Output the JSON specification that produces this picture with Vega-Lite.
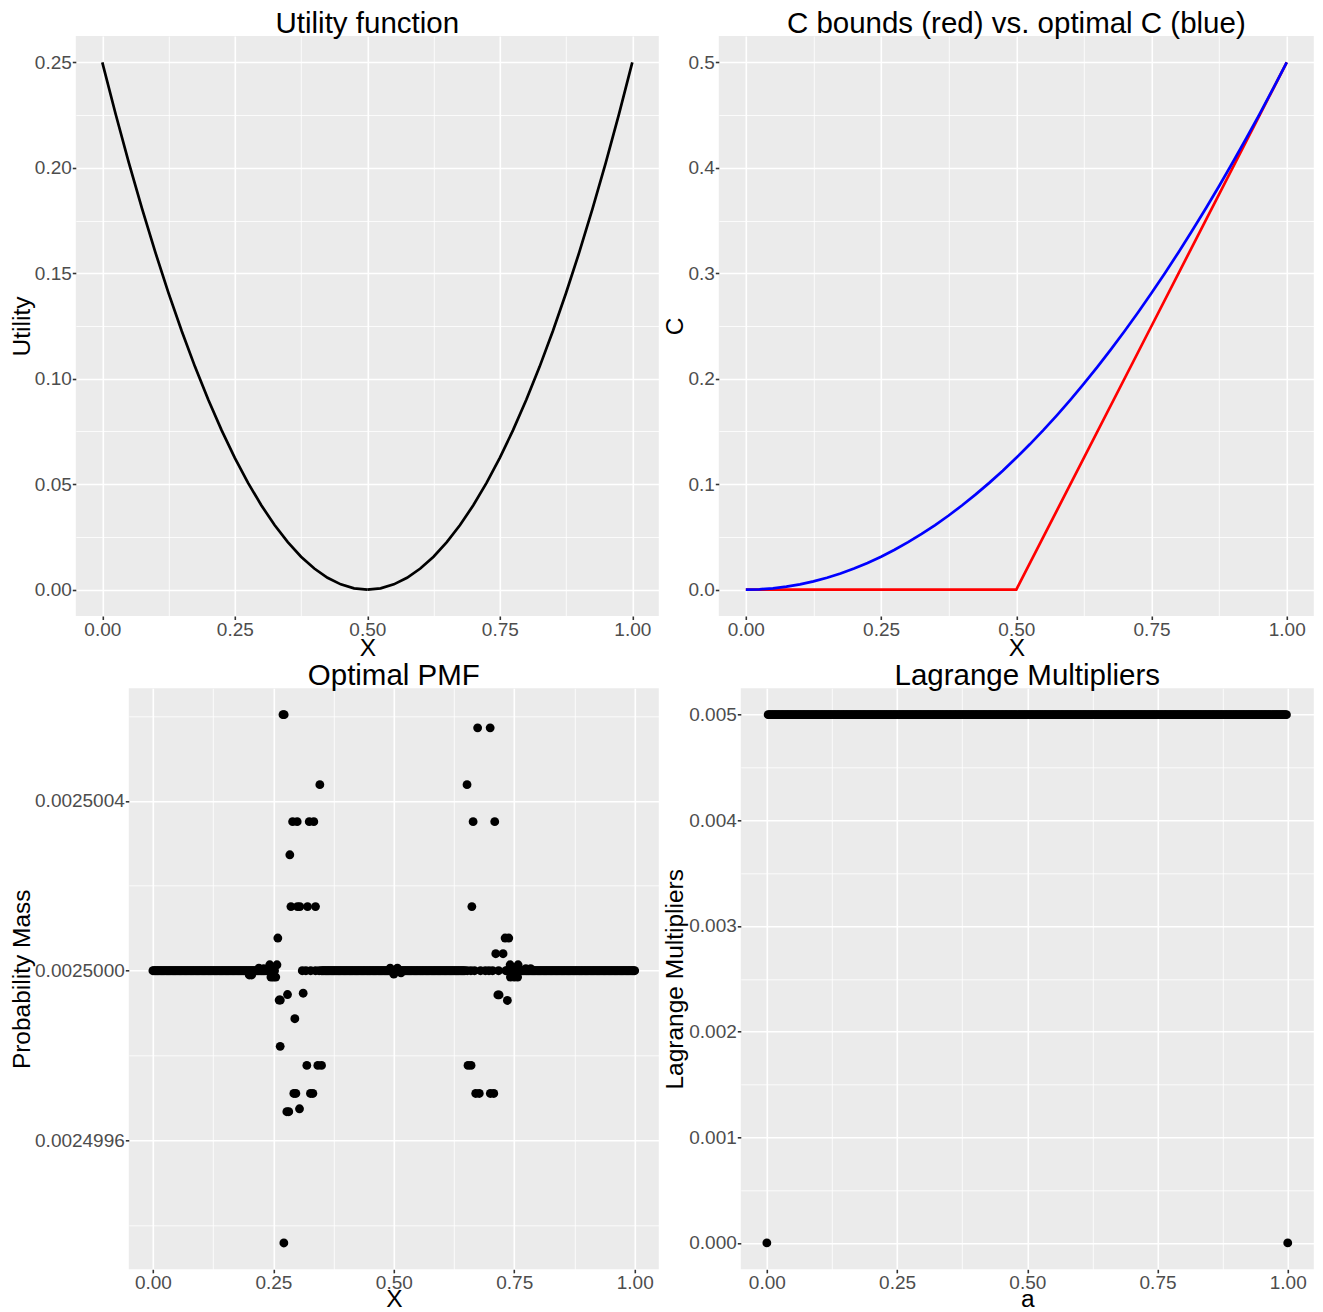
{
"$schema": "https://vega.github.io/schema/vega-lite/v6.json",
"padding": {"left": 4.8, "top": 8, "right": 0, "bottom": 0},
"background": "#FFFFFF",
"spacing": -0.7,
"config": {
 "font": "Liberation Sans",
 "view": {"fill": "#EBEBEB", "stroke": null},
 "axis": {"domain": false, "tickColor": "#333333", "tickWidth": 1.6, "tickSize": 3.5, "labelColor": "#4D4D4D", "labelFontSize": 19, "labelPadding": 1, "titleColor": "#000000", "titleFontSize": 24.5, "titleFontWeight": "normal", "gridColor": "#FFFFFF", "gridWidth": 1.6, "labelFlush": false, "labelOverlap": false},
 "title": {"fontSize": 29.5, "fontWeight": "normal", "color": "#000000", "anchor": "middle", "frame": "group", "offset": -3}
},
"datasets": {
 "spacer": [],
 "util_left": [{"x":0,"u":0.25},{"x":0.025,"u":0.225625},{"x":0.05,"u":0.2025},{"x":0.075,"u":0.180625},{"x":0.1,"u":0.16},{"x":0.125,"u":0.140625},{"x":0.15,"u":0.1225},{"x":0.175,"u":0.105625},{"x":0.2,"u":0.09},{"x":0.225,"u":0.075625},{"x":0.25,"u":0.0625},{"x":0.275,"u":0.050625},{"x":0.3,"u":0.04},{"x":0.325,"u":0.030625},{"x":0.35,"u":0.0225},{"x":0.375,"u":0.015625},{"x":0.4,"u":0.01},{"x":0.425,"u":0.005625},{"x":0.45,"u":0.0025},{"x":0.475,"u":0.000625},{"x":0.5,"u":0}],
 "util_right": [{"x":0.5,"u":0},{"x":0.525,"u":0.000625},{"x":0.55,"u":0.0025},{"x":0.575,"u":0.005625},{"x":0.6,"u":0.01},{"x":0.625,"u":0.015625},{"x":0.65,"u":0.0225},{"x":0.675,"u":0.030625},{"x":0.7,"u":0.04},{"x":0.725,"u":0.050625},{"x":0.75,"u":0.0625},{"x":0.775,"u":0.075625},{"x":0.8,"u":0.09},{"x":0.825,"u":0.105625},{"x":0.85,"u":0.1225},{"x":0.875,"u":0.140625},{"x":0.9,"u":0.16},{"x":0.925,"u":0.180625},{"x":0.95,"u":0.2025},{"x":0.975,"u":0.225625},{"x":1,"u":0.25}],
 "c_red": [{"x":0,"C":0},{"x":0.25,"C":0},{"x":0.5,"C":0},{"x":0.75,"C":0.25},{"x":1,"C":0.5}],
 "c_blue": [{"x":0,"C":0},{"x":0.025,"C":0.0003125},{"x":0.05,"C":0.00125},{"x":0.075,"C":0.0028125},{"x":0.1,"C":0.005},{"x":0.125,"C":0.0078125},{"x":0.15,"C":0.01125},{"x":0.175,"C":0.0153125},{"x":0.2,"C":0.02},{"x":0.225,"C":0.0253125},{"x":0.25,"C":0.03125},{"x":0.275,"C":0.0378125},{"x":0.3,"C":0.045},{"x":0.325,"C":0.0528125},{"x":0.35,"C":0.06125},{"x":0.375,"C":0.0703125},{"x":0.4,"C":0.08},{"x":0.425,"C":0.0903125},{"x":0.45,"C":0.10125},{"x":0.475,"C":0.1128125},{"x":0.5,"C":0.125},{"x":0.525,"C":0.1378125},{"x":0.55,"C":0.15125},{"x":0.575,"C":0.1653125},{"x":0.6,"C":0.18},{"x":0.625,"C":0.1953125},{"x":0.65,"C":0.21125},{"x":0.675,"C":0.2278125},{"x":0.7,"C":0.245},{"x":0.725,"C":0.2628125},{"x":0.75,"C":0.28125},{"x":0.775,"C":0.3003125},{"x":0.8,"C":0.32},{"x":0.825,"C":0.3403125},{"x":0.85,"C":0.36125},{"x":0.875,"C":0.3828125},{"x":0.9,"C":0.405},{"x":0.925,"C":0.4278125},{"x":0.95,"C":0.45125},{"x":0.975,"C":0.4753125},{"x":1,"C":0.5}],
 "pmf_base": [{"x":0,"p":0.0025},{"x":0.0025,"p":0.0025},{"x":0.005,"p":0.0025},{"x":0.0075,"p":0.0025},{"x":0.01,"p":0.0025},{"x":0.0125,"p":0.0025},{"x":0.015,"p":0.0025},{"x":0.0175,"p":0.0025},{"x":0.02,"p":0.0025},{"x":0.0225,"p":0.0025},{"x":0.025,"p":0.0025},{"x":0.0275,"p":0.0025},{"x":0.03,"p":0.0025},{"x":0.0325,"p":0.0025},{"x":0.035,"p":0.0025},{"x":0.0375,"p":0.0025},{"x":0.04,"p":0.0025},{"x":0.0425,"p":0.0025},{"x":0.045,"p":0.0025},{"x":0.0475,"p":0.0025},{"x":0.05,"p":0.0025},{"x":0.0525,"p":0.0025},{"x":0.055,"p":0.0025},{"x":0.0575,"p":0.0025},{"x":0.06,"p":0.0025},{"x":0.0625,"p":0.0025},{"x":0.065,"p":0.0025},{"x":0.0675,"p":0.0025},{"x":0.07,"p":0.0025},{"x":0.0725,"p":0.0025},{"x":0.075,"p":0.0025},{"x":0.0775,"p":0.0025},{"x":0.08,"p":0.0025},{"x":0.0825,"p":0.0025},{"x":0.085,"p":0.0025},{"x":0.0875,"p":0.0025},{"x":0.09,"p":0.0025},{"x":0.0925,"p":0.0025},{"x":0.095,"p":0.0025},{"x":0.0975,"p":0.0025},{"x":0.1,"p":0.0025},{"x":0.1025,"p":0.0025},{"x":0.105,"p":0.0025},{"x":0.1075,"p":0.0025},{"x":0.11,"p":0.0025},{"x":0.1125,"p":0.0025},{"x":0.115,"p":0.0025},{"x":0.1175,"p":0.0025},{"x":0.12,"p":0.0025},{"x":0.1225,"p":0.0025},{"x":0.125,"p":0.0025},{"x":0.1275,"p":0.0025},{"x":0.13,"p":0.0025},{"x":0.1325,"p":0.0025},{"x":0.135,"p":0.0025},{"x":0.1375,"p":0.0025},{"x":0.14,"p":0.0025},{"x":0.1425,"p":0.0025},{"x":0.145,"p":0.0025},{"x":0.1475,"p":0.0025},{"x":0.15,"p":0.0025},{"x":0.1525,"p":0.0025},{"x":0.155,"p":0.0025},{"x":0.1575,"p":0.0025},{"x":0.16,"p":0.0025},{"x":0.1625,"p":0.0025},{"x":0.165,"p":0.0025},{"x":0.1675,"p":0.0025},{"x":0.17,"p":0.0025},{"x":0.1725,"p":0.0025},{"x":0.175,"p":0.0025},{"x":0.1775,"p":0.0025},{"x":0.18,"p":0.0025},{"x":0.1825,"p":0.0025},{"x":0.185,"p":0.0025},{"x":0.1875,"p":0.0025},{"x":0.19,"p":0.0025},{"x":0.1925,"p":0.0025},{"x":0.195,"p":0.0025},{"x":0.1975,"p":0.0025},{"x":0.2,"p":0.0025},{"x":0.2025,"p":0.0025},{"x":0.205,"p":0.0025},{"x":0.2075,"p":0.0025},{"x":0.21,"p":0.0025},{"x":0.2125,"p":0.0025},{"x":0.215,"p":0.0025},{"x":0.2175,"p":0.0025},{"x":0.22,"p":0.0025},{"x":0.2225,"p":0.0025},{"x":0.225,"p":0.0025},{"x":0.2275,"p":0.0025},{"x":0.23,"p":0.0025},{"x":0.2325,"p":0.0025},{"x":0.235,"p":0.0025},{"x":0.2375,"p":0.0025},{"x":0.24,"p":0.0025},{"x":0.2425,"p":0.0025},{"x":0.245,"p":0.0025},{"x":0.2475,"p":0.0025},{"x":0.25,"p":0.0025},{"x":0.2525,"p":0.0025},{"x":0.31,"p":0.0025},{"x":0.3175,"p":0.0025},{"x":0.3275,"p":0.0025},{"x":0.3375,"p":0.0025},{"x":0.345,"p":0.0025},{"x":0.35,"p":0.0025},{"x":0.3525,"p":0.0025},{"x":0.355,"p":0.0025},{"x":0.3575,"p":0.0025},{"x":0.36,"p":0.0025},{"x":0.3625,"p":0.0025},{"x":0.365,"p":0.0025},{"x":0.3675,"p":0.0025},{"x":0.37,"p":0.0025},{"x":0.3725,"p":0.0025},{"x":0.375,"p":0.0025},{"x":0.3775,"p":0.0025},{"x":0.38,"p":0.0025},{"x":0.3825,"p":0.0025},{"x":0.385,"p":0.0025},{"x":0.3875,"p":0.0025},{"x":0.39,"p":0.0025},{"x":0.3925,"p":0.0025},{"x":0.395,"p":0.0025},{"x":0.3975,"p":0.0025},{"x":0.4,"p":0.0025},{"x":0.4025,"p":0.0025},{"x":0.405,"p":0.0025},{"x":0.4075,"p":0.0025},{"x":0.41,"p":0.0025},{"x":0.4125,"p":0.0025},{"x":0.415,"p":0.0025},{"x":0.4175,"p":0.0025},{"x":0.42,"p":0.0025},{"x":0.4225,"p":0.0025},{"x":0.425,"p":0.0025},{"x":0.4275,"p":0.0025},{"x":0.43,"p":0.0025},{"x":0.4325,"p":0.0025},{"x":0.435,"p":0.0025},{"x":0.4375,"p":0.0025},{"x":0.44,"p":0.0025},{"x":0.4425,"p":0.0025},{"x":0.445,"p":0.0025},{"x":0.4475,"p":0.0025},{"x":0.45,"p":0.0025},{"x":0.4525,"p":0.0025},{"x":0.455,"p":0.0025},{"x":0.4575,"p":0.0025},{"x":0.46,"p":0.0025},{"x":0.4625,"p":0.0025},{"x":0.465,"p":0.0025},{"x":0.4675,"p":0.0025},{"x":0.47,"p":0.0025},{"x":0.4725,"p":0.0025},{"x":0.475,"p":0.0025},{"x":0.4775,"p":0.0025},{"x":0.48,"p":0.0025},{"x":0.4825,"p":0.0025},{"x":0.485,"p":0.0025},{"x":0.4875,"p":0.0025},{"x":0.49,"p":0.0025},{"x":0.4925,"p":0.0025},{"x":0.495,"p":0.0025},{"x":0.4975,"p":0.0025},{"x":0.5,"p":0.0025},{"x":0.5025,"p":0.0025},{"x":0.505,"p":0.0025},{"x":0.5075,"p":0.0025},{"x":0.51,"p":0.0025},{"x":0.5125,"p":0.0025},{"x":0.515,"p":0.0025},{"x":0.5175,"p":0.0025},{"x":0.52,"p":0.0025},{"x":0.5225,"p":0.0025},{"x":0.525,"p":0.0025},{"x":0.5275,"p":0.0025},{"x":0.53,"p":0.0025},{"x":0.5325,"p":0.0025},{"x":0.535,"p":0.0025},{"x":0.5375,"p":0.0025},{"x":0.54,"p":0.0025},{"x":0.5425,"p":0.0025},{"x":0.545,"p":0.0025},{"x":0.5475,"p":0.0025},{"x":0.55,"p":0.0025},{"x":0.5525,"p":0.0025},{"x":0.555,"p":0.0025},{"x":0.5575,"p":0.0025},{"x":0.56,"p":0.0025},{"x":0.5625,"p":0.0025},{"x":0.565,"p":0.0025},{"x":0.5675,"p":0.0025},{"x":0.57,"p":0.0025},{"x":0.5725,"p":0.0025},{"x":0.575,"p":0.0025},{"x":0.5775,"p":0.0025},{"x":0.58,"p":0.0025},{"x":0.5825,"p":0.0025},{"x":0.585,"p":0.0025},{"x":0.5875,"p":0.0025},{"x":0.59,"p":0.0025},{"x":0.5925,"p":0.0025},{"x":0.595,"p":0.0025},{"x":0.5975,"p":0.0025},{"x":0.6,"p":0.0025},{"x":0.6025,"p":0.0025},{"x":0.605,"p":0.0025},{"x":0.6075,"p":0.0025},{"x":0.61,"p":0.0025},{"x":0.6125,"p":0.0025},{"x":0.615,"p":0.0025},{"x":0.6175,"p":0.0025},{"x":0.62,"p":0.0025},{"x":0.6225,"p":0.0025},{"x":0.625,"p":0.0025},{"x":0.6275,"p":0.0025},{"x":0.63,"p":0.0025},{"x":0.6325,"p":0.0025},{"x":0.635,"p":0.0025},{"x":0.6375,"p":0.0025},{"x":0.64,"p":0.0025},{"x":0.6425,"p":0.0025},{"x":0.645,"p":0.0025},{"x":0.6475,"p":0.0025},{"x":0.6525,"p":0.0025},{"x":0.66,"p":0.0025},{"x":0.6675,"p":0.0025},{"x":0.68,"p":0.0025},{"x":0.69,"p":0.0025},{"x":0.6975,"p":0.0025},{"x":0.705,"p":0.0025},{"x":0.7175,"p":0.0025},{"x":0.7325,"p":0.0025},{"x":0.735,"p":0.0025},{"x":0.7375,"p":0.0025},{"x":0.74,"p":0.0025},{"x":0.7425,"p":0.0025},{"x":0.745,"p":0.0025},{"x":0.7475,"p":0.0025},{"x":0.75,"p":0.0025},{"x":0.7525,"p":0.0025},{"x":0.755,"p":0.0025},{"x":0.7575,"p":0.0025},{"x":0.76,"p":0.0025},{"x":0.7625,"p":0.0025},{"x":0.765,"p":0.0025},{"x":0.7675,"p":0.0025},{"x":0.77,"p":0.0025},{"x":0.7725,"p":0.0025},{"x":0.775,"p":0.0025},{"x":0.7775,"p":0.0025},{"x":0.78,"p":0.0025},{"x":0.7825,"p":0.0025},{"x":0.785,"p":0.0025},{"x":0.7875,"p":0.0025},{"x":0.79,"p":0.0025},{"x":0.7925,"p":0.0025},{"x":0.795,"p":0.0025},{"x":0.7975,"p":0.0025},{"x":0.8,"p":0.0025},{"x":0.8025,"p":0.0025},{"x":0.805,"p":0.0025},{"x":0.8075,"p":0.0025},{"x":0.81,"p":0.0025},{"x":0.8125,"p":0.0025},{"x":0.815,"p":0.0025},{"x":0.8175,"p":0.0025},{"x":0.82,"p":0.0025},{"x":0.8225,"p":0.0025},{"x":0.825,"p":0.0025},{"x":0.8275,"p":0.0025},{"x":0.83,"p":0.0025},{"x":0.8325,"p":0.0025},{"x":0.835,"p":0.0025},{"x":0.8375,"p":0.0025},{"x":0.84,"p":0.0025},{"x":0.8425,"p":0.0025},{"x":0.845,"p":0.0025},{"x":0.8475,"p":0.0025},{"x":0.85,"p":0.0025},{"x":0.8525,"p":0.0025},{"x":0.855,"p":0.0025},{"x":0.8575,"p":0.0025},{"x":0.86,"p":0.0025},{"x":0.8625,"p":0.0025},{"x":0.865,"p":0.0025},{"x":0.8675,"p":0.0025},{"x":0.87,"p":0.0025},{"x":0.8725,"p":0.0025},{"x":0.875,"p":0.0025},{"x":0.8775,"p":0.0025},{"x":0.88,"p":0.0025},{"x":0.8825,"p":0.0025},{"x":0.885,"p":0.0025},{"x":0.8875,"p":0.0025},{"x":0.89,"p":0.0025},{"x":0.8925,"p":0.0025},{"x":0.895,"p":0.0025},{"x":0.8975,"p":0.0025},{"x":0.9,"p":0.0025},{"x":0.9025,"p":0.0025},{"x":0.905,"p":0.0025},{"x":0.9075,"p":0.0025},{"x":0.91,"p":0.0025},{"x":0.9125,"p":0.0025},{"x":0.915,"p":0.0025},{"x":0.9175,"p":0.0025},{"x":0.92,"p":0.0025},{"x":0.9225,"p":0.0025},{"x":0.925,"p":0.0025},{"x":0.9275,"p":0.0025},{"x":0.93,"p":0.0025},{"x":0.9325,"p":0.0025},{"x":0.935,"p":0.0025},{"x":0.9375,"p":0.0025},{"x":0.94,"p":0.0025},{"x":0.9425,"p":0.0025},{"x":0.945,"p":0.0025},{"x":0.9475,"p":0.0025},{"x":0.95,"p":0.0025},{"x":0.9525,"p":0.0025},{"x":0.955,"p":0.0025},{"x":0.9575,"p":0.0025},{"x":0.96,"p":0.0025},{"x":0.9625,"p":0.0025},{"x":0.965,"p":0.0025},{"x":0.9675,"p":0.0025},{"x":0.97,"p":0.0025},{"x":0.9725,"p":0.0025},{"x":0.975,"p":0.0025},{"x":0.9775,"p":0.0025},{"x":0.98,"p":0.0025},{"x":0.9825,"p":0.0025},{"x":0.985,"p":0.0025},{"x":0.9875,"p":0.0025},{"x":0.99,"p":0.0025},{"x":0.9925,"p":0.0025},{"x":0.995,"p":0.0025},{"x":0.9975,"p":0.0025},{"x":1,"p":0.0025}],
 "pmf_dev": [{"x":0.2,"p":0.00249999},{"x":0.205,"p":0.00249999},{"x":0.22,"p":0.002500006},{"x":0.23,"p":0.002500005},{"x":0.2425,"p":0.002500014},{"x":0.2575,"p":0.002500014},{"x":0.245,"p":0.002499985},{"x":0.25,"p":0.002499985},{"x":0.255,"p":0.002499985},{"x":0.27,"p":0.002500603},{"x":0.2725,"p":0.002500603},{"x":0.3465,"p":0.002500438},{"x":0.29,"p":0.002500351},{"x":0.2995,"p":0.002500351},{"x":0.3245,"p":0.002500351},{"x":0.334,"p":0.002500351},{"x":0.2842,"p":0.002500273},{"x":0.2865,"p":0.002500151},{"x":0.3,"p":0.002500151},{"x":0.305,"p":0.002500151},{"x":0.321,"p":0.002500151},{"x":0.3375,"p":0.002500151},{"x":0.2593,"p":0.002500077},{"x":0.3119,"p":0.002499947},{"x":0.2794,"p":0.002499944},{"x":0.262,"p":0.002499931},{"x":0.2645,"p":0.002499931},{"x":0.2946,"p":0.002499887},{"x":0.2642,"p":0.002499822},{"x":0.3195,"p":0.002499777},{"x":0.3423,"p":0.002499777},{"x":0.35,"p":0.002499777},{"x":0.2925,"p":0.002499711},{"x":0.2967,"p":0.002499711},{"x":0.327,"p":0.002499711},{"x":0.332,"p":0.002499711},{"x":0.278,"p":0.002499668},{"x":0.282,"p":0.002499668},{"x":0.3043,"p":0.002499675},{"x":0.2718,"p":0.002499359},{"x":0.4925,"p":0.002500006},{"x":0.5,"p":0.002499992},{"x":0.5075,"p":0.002500006},{"x":0.515,"p":0.002499995},{"x":0.674,"p":0.002500572},{"x":0.7,"p":0.002500572},{"x":0.652,"p":0.002500438},{"x":0.6646,"p":0.002500351},{"x":0.7095,"p":0.002500351},{"x":0.662,"p":0.002500151},{"x":0.731,"p":0.002500077},{"x":0.7386,"p":0.002500077},{"x":0.7116,"p":0.00250004},{"x":0.7268,"p":0.00250004},{"x":0.7414,"p":0.002500014},{"x":0.758,"p":0.002500014},{"x":0.774,"p":0.002500005},{"x":0.784,"p":0.002500005},{"x":0.742,"p":0.002499985},{"x":0.75,"p":0.002499985},{"x":0.757,"p":0.002499985},{"x":0.716,"p":0.002499943},{"x":0.7185,"p":0.002499943},{"x":0.7357,"p":0.00249993},{"x":0.654,"p":0.002499777},{"x":0.6604,"p":0.002499777},{"x":0.67,"p":0.002499711},{"x":0.6774,"p":0.002499711},{"x":0.7004,"p":0.002499711},{"x":0.7075,"p":0.002499711}],
 "lm_band": [{"a":0.0025,"m":0.005},{"a":0.005,"m":0.005},{"a":0.0075,"m":0.005},{"a":0.01,"m":0.005},{"a":0.0125,"m":0.005},{"a":0.015,"m":0.005},{"a":0.0175,"m":0.005},{"a":0.02,"m":0.005},{"a":0.0225,"m":0.005},{"a":0.025,"m":0.005},{"a":0.0275,"m":0.005},{"a":0.03,"m":0.005},{"a":0.0325,"m":0.005},{"a":0.035,"m":0.005},{"a":0.0375,"m":0.005},{"a":0.04,"m":0.005},{"a":0.0425,"m":0.005},{"a":0.045,"m":0.005},{"a":0.0475,"m":0.005},{"a":0.05,"m":0.005},{"a":0.0525,"m":0.005},{"a":0.055,"m":0.005},{"a":0.0575,"m":0.005},{"a":0.06,"m":0.005},{"a":0.0625,"m":0.005},{"a":0.065,"m":0.005},{"a":0.0675,"m":0.005},{"a":0.07,"m":0.005},{"a":0.0725,"m":0.005},{"a":0.075,"m":0.005},{"a":0.0775,"m":0.005},{"a":0.08,"m":0.005},{"a":0.0825,"m":0.005},{"a":0.085,"m":0.005},{"a":0.0875,"m":0.005},{"a":0.09,"m":0.005},{"a":0.0925,"m":0.005},{"a":0.095,"m":0.005},{"a":0.0975,"m":0.005},{"a":0.1,"m":0.005},{"a":0.1025,"m":0.005},{"a":0.105,"m":0.005},{"a":0.1075,"m":0.005},{"a":0.11,"m":0.005},{"a":0.1125,"m":0.005},{"a":0.115,"m":0.005},{"a":0.1175,"m":0.005},{"a":0.12,"m":0.005},{"a":0.1225,"m":0.005},{"a":0.125,"m":0.005},{"a":0.1275,"m":0.005},{"a":0.13,"m":0.005},{"a":0.1325,"m":0.005},{"a":0.135,"m":0.005},{"a":0.1375,"m":0.005},{"a":0.14,"m":0.005},{"a":0.1425,"m":0.005},{"a":0.145,"m":0.005},{"a":0.1475,"m":0.005},{"a":0.15,"m":0.005},{"a":0.1525,"m":0.005},{"a":0.155,"m":0.005},{"a":0.1575,"m":0.005},{"a":0.16,"m":0.005},{"a":0.1625,"m":0.005},{"a":0.165,"m":0.005},{"a":0.1675,"m":0.005},{"a":0.17,"m":0.005},{"a":0.1725,"m":0.005},{"a":0.175,"m":0.005},{"a":0.1775,"m":0.005},{"a":0.18,"m":0.005},{"a":0.1825,"m":0.005},{"a":0.185,"m":0.005},{"a":0.1875,"m":0.005},{"a":0.19,"m":0.005},{"a":0.1925,"m":0.005},{"a":0.195,"m":0.005},{"a":0.1975,"m":0.005},{"a":0.2,"m":0.005},{"a":0.2025,"m":0.005},{"a":0.205,"m":0.005},{"a":0.2075,"m":0.005},{"a":0.21,"m":0.005},{"a":0.2125,"m":0.005},{"a":0.215,"m":0.005},{"a":0.2175,"m":0.005},{"a":0.22,"m":0.005},{"a":0.2225,"m":0.005},{"a":0.225,"m":0.005},{"a":0.2275,"m":0.005},{"a":0.23,"m":0.005},{"a":0.2325,"m":0.005},{"a":0.235,"m":0.005},{"a":0.2375,"m":0.005},{"a":0.24,"m":0.005},{"a":0.2425,"m":0.005},{"a":0.245,"m":0.005},{"a":0.2475,"m":0.005},{"a":0.25,"m":0.005},{"a":0.2525,"m":0.005},{"a":0.255,"m":0.005},{"a":0.2575,"m":0.005},{"a":0.26,"m":0.005},{"a":0.2625,"m":0.005},{"a":0.265,"m":0.005},{"a":0.2675,"m":0.005},{"a":0.27,"m":0.005},{"a":0.2725,"m":0.005},{"a":0.275,"m":0.005},{"a":0.2775,"m":0.005},{"a":0.28,"m":0.005},{"a":0.2825,"m":0.005},{"a":0.285,"m":0.005},{"a":0.2875,"m":0.005},{"a":0.29,"m":0.005},{"a":0.2925,"m":0.005},{"a":0.295,"m":0.005},{"a":0.2975,"m":0.005},{"a":0.3,"m":0.005},{"a":0.3025,"m":0.005},{"a":0.305,"m":0.005},{"a":0.3075,"m":0.005},{"a":0.31,"m":0.005},{"a":0.3125,"m":0.005},{"a":0.315,"m":0.005},{"a":0.3175,"m":0.005},{"a":0.32,"m":0.005},{"a":0.3225,"m":0.005},{"a":0.325,"m":0.005},{"a":0.3275,"m":0.005},{"a":0.33,"m":0.005},{"a":0.3325,"m":0.005},{"a":0.335,"m":0.005},{"a":0.3375,"m":0.005},{"a":0.34,"m":0.005},{"a":0.3425,"m":0.005},{"a":0.345,"m":0.005},{"a":0.3475,"m":0.005},{"a":0.35,"m":0.005},{"a":0.3525,"m":0.005},{"a":0.355,"m":0.005},{"a":0.3575,"m":0.005},{"a":0.36,"m":0.005},{"a":0.3625,"m":0.005},{"a":0.365,"m":0.005},{"a":0.3675,"m":0.005},{"a":0.37,"m":0.005},{"a":0.3725,"m":0.005},{"a":0.375,"m":0.005},{"a":0.3775,"m":0.005},{"a":0.38,"m":0.005},{"a":0.3825,"m":0.005},{"a":0.385,"m":0.005},{"a":0.3875,"m":0.005},{"a":0.39,"m":0.005},{"a":0.3925,"m":0.005},{"a":0.395,"m":0.005},{"a":0.3975,"m":0.005},{"a":0.4,"m":0.005},{"a":0.4025,"m":0.005},{"a":0.405,"m":0.005},{"a":0.4075,"m":0.005},{"a":0.41,"m":0.005},{"a":0.4125,"m":0.005},{"a":0.415,"m":0.005},{"a":0.4175,"m":0.005},{"a":0.42,"m":0.005},{"a":0.4225,"m":0.005},{"a":0.425,"m":0.005},{"a":0.4275,"m":0.005},{"a":0.43,"m":0.005},{"a":0.4325,"m":0.005},{"a":0.435,"m":0.005},{"a":0.4375,"m":0.005},{"a":0.44,"m":0.005},{"a":0.4425,"m":0.005},{"a":0.445,"m":0.005},{"a":0.4475,"m":0.005},{"a":0.45,"m":0.005},{"a":0.4525,"m":0.005},{"a":0.455,"m":0.005},{"a":0.4575,"m":0.005},{"a":0.46,"m":0.005},{"a":0.4625,"m":0.005},{"a":0.465,"m":0.005},{"a":0.4675,"m":0.005},{"a":0.47,"m":0.005},{"a":0.4725,"m":0.005},{"a":0.475,"m":0.005},{"a":0.4775,"m":0.005},{"a":0.48,"m":0.005},{"a":0.4825,"m":0.005},{"a":0.485,"m":0.005},{"a":0.4875,"m":0.005},{"a":0.49,"m":0.005},{"a":0.4925,"m":0.005},{"a":0.495,"m":0.005},{"a":0.4975,"m":0.005},{"a":0.5,"m":0.005},{"a":0.5025,"m":0.005},{"a":0.505,"m":0.005},{"a":0.5075,"m":0.005},{"a":0.51,"m":0.005},{"a":0.5125,"m":0.005},{"a":0.515,"m":0.005},{"a":0.5175,"m":0.005},{"a":0.52,"m":0.005},{"a":0.5225,"m":0.005},{"a":0.525,"m":0.005},{"a":0.5275,"m":0.005},{"a":0.53,"m":0.005},{"a":0.5325,"m":0.005},{"a":0.535,"m":0.005},{"a":0.5375,"m":0.005},{"a":0.54,"m":0.005},{"a":0.5425,"m":0.005},{"a":0.545,"m":0.005},{"a":0.5475,"m":0.005},{"a":0.55,"m":0.005},{"a":0.5525,"m":0.005},{"a":0.555,"m":0.005},{"a":0.5575,"m":0.005},{"a":0.56,"m":0.005},{"a":0.5625,"m":0.005},{"a":0.565,"m":0.005},{"a":0.5675,"m":0.005},{"a":0.57,"m":0.005},{"a":0.5725,"m":0.005},{"a":0.575,"m":0.005},{"a":0.5775,"m":0.005},{"a":0.58,"m":0.005},{"a":0.5825,"m":0.005},{"a":0.585,"m":0.005},{"a":0.5875,"m":0.005},{"a":0.59,"m":0.005},{"a":0.5925,"m":0.005},{"a":0.595,"m":0.005},{"a":0.5975,"m":0.005},{"a":0.6,"m":0.005},{"a":0.6025,"m":0.005},{"a":0.605,"m":0.005},{"a":0.6075,"m":0.005},{"a":0.61,"m":0.005},{"a":0.6125,"m":0.005},{"a":0.615,"m":0.005},{"a":0.6175,"m":0.005},{"a":0.62,"m":0.005},{"a":0.6225,"m":0.005},{"a":0.625,"m":0.005},{"a":0.6275,"m":0.005},{"a":0.63,"m":0.005},{"a":0.6325,"m":0.005},{"a":0.635,"m":0.005},{"a":0.6375,"m":0.005},{"a":0.64,"m":0.005},{"a":0.6425,"m":0.005},{"a":0.645,"m":0.005},{"a":0.6475,"m":0.005},{"a":0.65,"m":0.005},{"a":0.6525,"m":0.005},{"a":0.655,"m":0.005},{"a":0.6575,"m":0.005},{"a":0.66,"m":0.005},{"a":0.6625,"m":0.005},{"a":0.665,"m":0.005},{"a":0.6675,"m":0.005},{"a":0.67,"m":0.005},{"a":0.6725,"m":0.005},{"a":0.675,"m":0.005},{"a":0.6775,"m":0.005},{"a":0.68,"m":0.005},{"a":0.6825,"m":0.005},{"a":0.685,"m":0.005},{"a":0.6875,"m":0.005},{"a":0.69,"m":0.005},{"a":0.6925,"m":0.005},{"a":0.695,"m":0.005},{"a":0.6975,"m":0.005},{"a":0.7,"m":0.005},{"a":0.7025,"m":0.005},{"a":0.705,"m":0.005},{"a":0.7075,"m":0.005},{"a":0.71,"m":0.005},{"a":0.7125,"m":0.005},{"a":0.715,"m":0.005},{"a":0.7175,"m":0.005},{"a":0.72,"m":0.005},{"a":0.7225,"m":0.005},{"a":0.725,"m":0.005},{"a":0.7275,"m":0.005},{"a":0.73,"m":0.005},{"a":0.7325,"m":0.005},{"a":0.735,"m":0.005},{"a":0.7375,"m":0.005},{"a":0.74,"m":0.005},{"a":0.7425,"m":0.005},{"a":0.745,"m":0.005},{"a":0.7475,"m":0.005},{"a":0.75,"m":0.005},{"a":0.7525,"m":0.005},{"a":0.755,"m":0.005},{"a":0.7575,"m":0.005},{"a":0.76,"m":0.005},{"a":0.7625,"m":0.005},{"a":0.765,"m":0.005},{"a":0.7675,"m":0.005},{"a":0.77,"m":0.005},{"a":0.7725,"m":0.005},{"a":0.775,"m":0.005},{"a":0.7775,"m":0.005},{"a":0.78,"m":0.005},{"a":0.7825,"m":0.005},{"a":0.785,"m":0.005},{"a":0.7875,"m":0.005},{"a":0.79,"m":0.005},{"a":0.7925,"m":0.005},{"a":0.795,"m":0.005},{"a":0.7975,"m":0.005},{"a":0.8,"m":0.005},{"a":0.8025,"m":0.005},{"a":0.805,"m":0.005},{"a":0.8075,"m":0.005},{"a":0.81,"m":0.005},{"a":0.8125,"m":0.005},{"a":0.815,"m":0.005},{"a":0.8175,"m":0.005},{"a":0.82,"m":0.005},{"a":0.8225,"m":0.005},{"a":0.825,"m":0.005},{"a":0.8275,"m":0.005},{"a":0.83,"m":0.005},{"a":0.8325,"m":0.005},{"a":0.835,"m":0.005},{"a":0.8375,"m":0.005},{"a":0.84,"m":0.005},{"a":0.8425,"m":0.005},{"a":0.845,"m":0.005},{"a":0.8475,"m":0.005},{"a":0.85,"m":0.005},{"a":0.8525,"m":0.005},{"a":0.855,"m":0.005},{"a":0.8575,"m":0.005},{"a":0.86,"m":0.005},{"a":0.8625,"m":0.005},{"a":0.865,"m":0.005},{"a":0.8675,"m":0.005},{"a":0.87,"m":0.005},{"a":0.8725,"m":0.005},{"a":0.875,"m":0.005},{"a":0.8775,"m":0.005},{"a":0.88,"m":0.005},{"a":0.8825,"m":0.005},{"a":0.885,"m":0.005},{"a":0.8875,"m":0.005},{"a":0.89,"m":0.005},{"a":0.8925,"m":0.005},{"a":0.895,"m":0.005},{"a":0.8975,"m":0.005},{"a":0.9,"m":0.005},{"a":0.9025,"m":0.005},{"a":0.905,"m":0.005},{"a":0.9075,"m":0.005},{"a":0.91,"m":0.005},{"a":0.9125,"m":0.005},{"a":0.915,"m":0.005},{"a":0.9175,"m":0.005},{"a":0.92,"m":0.005},{"a":0.9225,"m":0.005},{"a":0.925,"m":0.005},{"a":0.9275,"m":0.005},{"a":0.93,"m":0.005},{"a":0.9325,"m":0.005},{"a":0.935,"m":0.005},{"a":0.9375,"m":0.005},{"a":0.94,"m":0.005},{"a":0.9425,"m":0.005},{"a":0.945,"m":0.005},{"a":0.9475,"m":0.005},{"a":0.95,"m":0.005},{"a":0.9525,"m":0.005},{"a":0.955,"m":0.005},{"a":0.9575,"m":0.005},{"a":0.96,"m":0.005},{"a":0.9625,"m":0.005},{"a":0.965,"m":0.005},{"a":0.9675,"m":0.005},{"a":0.97,"m":0.005},{"a":0.9725,"m":0.005},{"a":0.975,"m":0.005},{"a":0.9775,"m":0.005},{"a":0.98,"m":0.005},{"a":0.9825,"m":0.005},{"a":0.985,"m":0.005},{"a":0.9875,"m":0.005},{"a":0.99,"m":0.005},{"a":0.9925,"m":0.005},{"a":0.995,"m":0.005},{"a":0.9975,"m":0.005}],
 "lm_zero": [{"a":0,"m":0},{"a":1,"m":0}]
},
"vconcat": [
 {
  "spacing": 3,
  "hconcat": [
   {"width": 1, "height": 1, "data": {"name": "spacer"}, "mark": "point", "view": {"fill": null, "stroke": null}},
   {
    "title": {"text": "Utility function"},
    "width": 583, "height": 580,
    "layer": [
     {"data": {"name": "util_left"}, "mark": {"type": "line", "color": "#000000", "strokeWidth": 2.7},
      "encoding": {
       "x": {"field": "x", "type": "quantitative", "scale": {"domain": [-0.05, 1.05], "nice": false, "zero": false}, "axis": {"orient": "bottom", "values": [0.125, 0.375, 0.625, 0.875], "grid": true, "gridWidth": 0.8, "ticks": false, "labels": false, "title": null, "minExtent": 0, "maxExtent": 0}},
       "y": {"field": "u", "type": "quantitative", "scale": {"domain": [-0.0125, 0.2625], "nice": false, "zero": false}, "axis": {"orient": "left", "values": [0.025, 0.075, 0.125, 0.175, 0.225], "grid": true, "gridWidth": 0.8, "ticks": false, "labels": false, "title": null, "minExtent": 0, "maxExtent": 0}}
      }},
     {"data": {"name": "util_right"}, "mark": {"type": "line", "color": "#000000", "strokeWidth": 2.7},
      "encoding": {
       "x": {"field": "x", "type": "quantitative", "scale": {"domain": [-0.05, 1.05], "nice": false, "zero": false}, "axis": {"orient": "bottom", "values": [0, 0.25, 0.5, 0.75, 1], "format": ".2f", "title": "X", "grid": true, "minExtent": 20.6, "maxExtent": 20.6, "titlePadding": 0}},
       "y": {"field": "u", "type": "quantitative", "scale": {"domain": [-0.0125, 0.2625], "nice": false, "zero": false}, "axis": {"orient": "left", "values": [0, 0.05, 0.1, 0.15, 0.2, 0.25], "format": ".2f", "title": "Utility", "grid": true, "minExtent": 41.7, "maxExtent": 41.7, "titlePadding": 0}}
      }}
    ],
    "resolve": {"axis": {"x": "independent", "y": "independent"}}
   },
   {
    "title": {"text": "C bounds (red) vs. optimal C (blue)"},
    "width": 595, "height": 580,
    "layer": [
     {"data": {"name": "c_red"}, "mark": {"type": "line", "color": "#FF0000", "strokeWidth": 2.7},
      "encoding": {
       "x": {"field": "x", "type": "quantitative", "scale": {"domain": [-0.05, 1.05], "nice": false, "zero": false}, "axis": {"orient": "bottom", "values": [0.125, 0.375, 0.625, 0.875], "grid": true, "gridWidth": 0.8, "ticks": false, "labels": false, "title": null, "minExtent": 0, "maxExtent": 0}},
       "y": {"field": "C", "type": "quantitative", "scale": {"domain": [-0.025, 0.525], "nice": false, "zero": false}, "axis": {"orient": "left", "values": [0.05, 0.15, 0.25, 0.35, 0.45], "grid": true, "gridWidth": 0.8, "ticks": false, "labels": false, "title": null, "minExtent": 0, "maxExtent": 0}}
      }},
     {"data": {"name": "c_blue"}, "mark": {"type": "line", "color": "#0000FF", "strokeWidth": 2.7},
      "encoding": {
       "x": {"field": "x", "type": "quantitative", "scale": {"domain": [-0.05, 1.05], "nice": false, "zero": false}, "axis": {"orient": "bottom", "values": [0, 0.25, 0.5, 0.75, 1], "format": ".2f", "title": "X", "grid": true, "minExtent": 20.6, "maxExtent": 20.6, "titlePadding": 0}},
       "y": {"field": "C", "type": "quantitative", "scale": {"domain": [-0.025, 0.525], "nice": false, "zero": false}, "axis": {"orient": "left", "values": [0, 0.1, 0.2, 0.3, 0.4, 0.5], "format": ".1f", "title": "C", "grid": true, "minExtent": 31.5, "maxExtent": 31.5, "titlePadding": 0}}
      }}
    ],
    "resolve": {"axis": {"x": "independent", "y": "independent"}}
   }
  ]
 },
 {
  "spacing": 3,
  "hconcat": [
   {"width": 1, "height": 1, "data": {"name": "spacer"}, "mark": "point", "view": {"fill": null, "stroke": null}},
   {
    "title": {"text": "Optimal PMF"},
    "width": 530, "height": 581,
    "layer": [
     {"data": {"name": "pmf_base"}, "mark": {"type": "circle", "color": "#000000", "size": 78, "opacity": 1},
      "encoding": {
       "x": {"field": "x", "type": "quantitative", "scale": {"domain": [-0.05, 1.05], "nice": false, "zero": false}, "axis": {"orient": "bottom", "values": [0.125, 0.375, 0.625, 0.875], "grid": true, "gridWidth": 0.8, "ticks": false, "labels": false, "title": null, "minExtent": 0, "maxExtent": 0}},
       "y": {"field": "p", "type": "quantitative", "scale": {"domain": [0.002499297, 0.002500665], "nice": false, "zero": false}, "axis": {"orient": "left", "values": [0.0024994, 0.0024998, 0.0025002, 0.0025006], "grid": true, "gridWidth": 0.8, "ticks": false, "labels": false, "title": null, "minExtent": 0, "maxExtent": 0}}
      }},
     {"data": {"name": "pmf_dev"}, "mark": {"type": "circle", "color": "#000000", "size": 78, "opacity": 1},
      "encoding": {
       "x": {"field": "x", "type": "quantitative", "scale": {"domain": [-0.05, 1.05], "nice": false, "zero": false}, "axis": {"orient": "bottom", "values": [0, 0.25, 0.5, 0.75, 1], "format": ".2f", "title": "X", "grid": true, "minExtent": 20, "maxExtent": 20, "titlePadding": -1.5}},
       "y": {"field": "p", "type": "quantitative", "scale": {"domain": [0.002499297, 0.002500665], "nice": false, "zero": false}, "axis": {"orient": "left", "values": [0.0024996, 0.0025, 0.0025004], "format": ".7f", "title": "Probability Mass", "grid": true, "minExtent": 94.7, "maxExtent": 94.7, "titlePadding": 0}}
      }}
    ],
    "resolve": {"axis": {"x": "independent", "y": "independent"}}
   },
   {
    "title": {"text": "Lagrange Multipliers"},
    "width": 573, "height": 581,
    "layer": [
     {"data": {"name": "lm_band"}, "mark": {"type": "circle", "color": "#000000", "size": 78, "opacity": 1},
      "encoding": {
       "x": {"field": "a", "type": "quantitative", "scale": {"domain": [-0.05, 1.05], "nice": false, "zero": false}, "axis": {"orient": "bottom", "values": [0.125, 0.375, 0.625, 0.875], "grid": true, "gridWidth": 0.8, "ticks": false, "labels": false, "title": null, "minExtent": 0, "maxExtent": 0}},
       "y": {"field": "m", "type": "quantitative", "scale": {"domain": [-0.00025, 0.00525], "nice": false, "zero": false}, "axis": {"orient": "left", "values": [0.0005, 0.0015, 0.0025, 0.0035, 0.0045], "grid": true, "gridWidth": 0.8, "ticks": false, "labels": false, "title": null, "minExtent": 0, "maxExtent": 0}}
      }},
     {"data": {"name": "lm_zero"}, "mark": {"type": "circle", "color": "#000000", "size": 78, "opacity": 1},
      "encoding": {
       "x": {"field": "a", "type": "quantitative", "scale": {"domain": [-0.05, 1.05], "nice": false, "zero": false}, "axis": {"orient": "bottom", "values": [0, 0.25, 0.5, 0.75, 1], "format": ".2f", "title": "a", "grid": true, "minExtent": 20, "maxExtent": 20, "titlePadding": -1.5}},
       "y": {"field": "m", "type": "quantitative", "scale": {"domain": [-0.00025, 0.00525], "nice": false, "zero": false}, "axis": {"orient": "left", "values": [0, 0.001, 0.002, 0.003, 0.004, 0.005], "format": ".3f", "title": "Lagrange Multipliers", "grid": true, "minExtent": 53.5, "maxExtent": 53.5, "titlePadding": 0}}
      }}
    ],
    "resolve": {"axis": {"x": "independent", "y": "independent"}}
   }
  ]
 }
]
}
